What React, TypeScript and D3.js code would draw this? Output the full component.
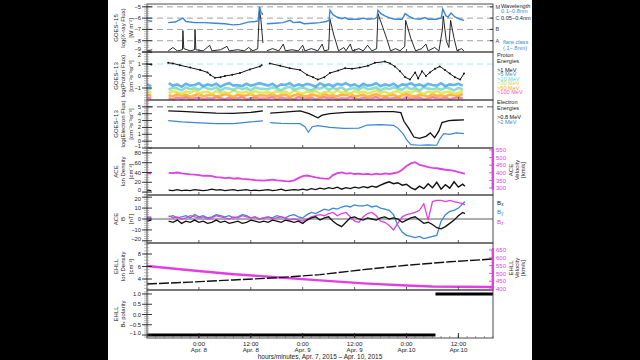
import React from 'react';
import * as d3 from 'd3';

type P = [number, number | null];

// time = hours after 2015-04-07 12:00 UT
const TIME_DOMAIN: [number, number] = [0, 80];
const TIME_TICKS = [12, 24, 36, 48, 60, 72];
const TIME_TICK_HOURS = ['0:00', '12:00', '0:00', '12:00', '0:00', '12:00'];
const TIME_TICK_DAYS = ['Apr. 8', 'Apr. 8', 'Apr. 9', 'Apr. 9', 'Apr.10', 'Apr.10'];
const TIME_TITLE = 'hours/minutes, Apr. 7, 2015 \u2013 Apr. 10, 2015';

// GOES-15 X-ray, log10 flux
const XRAY_LONG: P[] = [[0,-6.2],[1.2,-6.3],[1.3,null],[4.9,-6.4],[6.5,-6.35],[8.3,-6.0],[9,-6.3],[11.1,-6.4],[13.4,-6.4],[15.7,-6.45],[18,-6.5],[19.9,-6.6],[21.5,-6.55],[23.4,-6.35],[25,-6.3],[25.7,-6.25],[26,-5.0],[26.4,-5.5],[26.8,-5.7],[27,null],
  [27.7,-6.5],[29.6,-6.45],[31.4,-6.4],[33.1,-6.2],[33.8,-6.4],[35.4,-6.35],[36.3,-6.5],[38.2,-6.45],[40,-6.4],[41.4,-6.3],[42.1,-6.2],[42.3,-5.3],[43,-5.7],[43.9,-5.9],[45.1,-6.05],[45.8,-5.95],[46.5,-6.1],[48.8,-6.1],[50.2,-6.0],[50.9,-6.1],[52.7,-6.05],[53.2,-5.9],[53.4,-5.3],[54.1,-5.6],[55,-5.8],[56.2,-6.0],[57.3,-6.1],[59,-6.1],[59.4,-5.8],[59.7,-5.6],[60.6,-5.85],[61.7,-6.05],[63.1,-6.1],[64.3,-5.95],[65,-6.1],[66.8,-6.1],[68,-6.0],[68.4,-5.2],[69.1,-5.8],[69.6,-5.9],[70.3,-5.55],[71.2,-5.9],[72.4,-6.1],[73.3,-6.2]];
const XRAY_SHORT: P[] = [[0,-8.9],[1.2,-8.8],[1.3,null],[4.9,-8.9],[6,-8.6],[7,-8.9],[8.2,-8.8],[8.3,-7.1],[8.5,-8.7],[10,-8.9],[11,-8.8],[11.1,-7.0],[11.3,-8.8],[13,-8.9],[14.5,-8.4],[15,-8.9],[17,-8.8],[18.5,-8.5],[19,-8.9],[21,-8.8],[22.5,-8.9],[23.5,-8.6],[24.5,-8.9],[25.6,-8.7],[26,-5.3],[26.3,-6.0],[26.8,-8.2],[27,null],
  [27.7,-8.9],[29,-8.7],[30.5,-8.9],[31.5,-8.3],[32,-8.9],[33.5,-8.8],[35,-8.9],[36,-8.4],[36.5,-8.9],[38,-8.7],[39.5,-8.9],[40.5,-8.3],[41,-8.9],[42,-8.8],[42.3,-6.1],[43.2,-7.5],[44.3,-8.9],[45.5,-8.6],[46,-8.9],[47,-8.3],[47.5,-8.9],[49,-8.7],[50,-8.9],[51,-8.4],[52,-8.9],[53.1,-8.7],[53.4,-5.6],[54.5,-6.8],[55.5,-7.9],[56.3,-8.9],[57.5,-8.7],[58.5,-8.9],[59.6,-8.5],[59.8,-6.2],[61,-7.8],[62.1,-8.9],[63.5,-8.7],[64.5,-8.3],[65,-8.9],[66.5,-8.6],[67.5,-8.9],[68.3,-7.0],[68.5,-5.8],[69.2,-8.0],[69.8,-8.6],[70.2,-6.2],[71,-7.8],[71.7,-8.9],[72.7,-8.7],[73.3,-8.9]];

// GOES-13 protons, log10 flux
const PROTON_GT1: P[] = [[0,1.0],[1,0.95],[1.3,null],[4.9,1.1],[6,1.05],[7.6,0.9],[10,0.7],[12.3,0.5],[14,0.3],[14.6,0.1],[15.7,-0.15],[17,-0.1],[18,0.0],[19.7,0.1],[21.5,0.25],[23.8,0.55],[26.1,0.8],[26.5,0.9],[27,null],
  [28.4,1.05],[30.8,0.85],[33,0.65],[35.4,0.5],[37,0.1],[38.4,-0.1],[39.5,-0.3],[41,-0.1],[42.3,0.25],[44.2,0.45],[45.8,0.65],[47.4,0.6],[49.2,0.7],[51.1,0.85],[52.7,1.1],[55,1.2],[56.2,1.05],[57.3,0.8],[58.5,0.4],[59.7,-0.1],[60.8,-0.3],[62,0.3],[62.7,-0.2],[63.6,0.4],[64.5,0.0],[65.4,0.3],[66.6,0.6],[67.7,0.8],[68.9,0.5],[70,0.2],[71.2,-0.1],[72.4,-0.3],[73.3,0.2]];
const PROTON_T = [0,1,5,6,7,8,9,10,11,12,13,14,15,16,17,18,19,20,21,22,23,24,25,26,28,29,30,31,32,33,34,35,36,37,38,39,40,41,42,43,44,45,46,47,48,49,50,51,52,53,54,55,56,57,58,59,60,61,62,63,64,65,66,67,68,69,70,71,72,73];
const PROTON_GT5 = [-0.7,-0.85,
  -0.6,-0.8,-0.7,-0.9,-0.65,-0.8,-0.75,-0.6,-0.85,-0.7,-0.8,-0.65,-0.9,-0.7,-0.6,-0.8,-0.75,-0.85,-0.65,-0.8,-0.7,-0.6,
  -0.8,-0.65,-0.9,-0.7,-0.75,-0.6,-0.85,-0.7,-0.8,-0.65,-0.75,-0.9,-0.6,-0.8,-0.7,-0.85,-0.65,-0.75,-0.6,-0.8,-0.7,-0.9,-0.65,-0.8,-0.75,-0.6,-0.85,-0.7,-0.8,-0.65,-0.9,-0.7,-0.75,-0.6,-0.8,-0.7,-0.85,-0.65,-0.75,-0.8,-0.6,-0.85,-0.7,-0.75,-0.65,-0.8];
const PROTON_GT10 = [-1.0,-1.1,
  -1.15,-0.95,-1.05,-1.2,-0.95,-1.1,-1.0,-1.15,-0.9,-1.05,-1.1,-0.95,-1.2,-1.0,-1.05,-1.15,-0.95,-1.1,-1.0,-1.2,-0.95,-1.05,
  -1.1,-0.95,-1.05,-1.2,-1.0,-0.9,-1.15,-1.05,-0.95,-1.1,-1.2,-1.0,-1.05,-0.9,-1.15,-1.0,-1.1,-0.95,-1.2,-1.05,-1.0,-1.15,-0.9,-1.1,-1.05,-0.95,-1.2,-1.0,-1.1,-0.95,-1.05,-1.15,-0.9,-1.1,-1.0,-1.2,-0.95,-1.05,-1.1,-1.0,-1.15,-0.95,-1.05,-1.2,-1.0,-1.1];
const PROTON_GT30 = [-1.3,-1.4,
  -1.45,-1.25,-1.35,-1.5,-1.3,-1.4,-1.2,-1.45,-1.35,-1.3,-1.5,-1.25,-1.4,-1.35,-1.45,-1.2,-1.35,-1.4,-1.3,-1.5,-1.25,-1.4,
  -1.35,-1.45,-1.25,-1.4,-1.3,-1.5,-1.2,-1.35,-1.45,-1.3,-1.4,-1.25,-1.5,-1.35,-1.3,-1.45,-1.2,-1.4,-1.35,-1.5,-1.25,-1.4,-1.3,-1.45,-1.35,-1.2,-1.4,-1.3,-1.5,-1.35,-1.25,-1.45,-1.3,-1.4,-1.2,-1.35,-1.5,-1.3,-1.4,-1.25,-1.45,-1.35,-1.3,-1.5,-1.4,-1.25];
const PROTON_GT50 = [-1.55,-1.65,
  -1.6,-1.7,-1.5,-1.65,-1.55,-1.75,-1.6,-1.5,-1.7,-1.6,-1.55,-1.7,-1.65,-1.5,-1.6,-1.75,-1.55,-1.65,-1.6,-1.5,-1.7,-1.6,
  -1.65,-1.5,-1.7,-1.6,-1.55,-1.75,-1.6,-1.5,-1.65,-1.7,-1.55,-1.6,-1.75,-1.5,-1.65,-1.6,-1.7,-1.55,-1.6,-1.5,-1.7,-1.65,-1.55,-1.75,-1.6,-1.5,-1.65,-1.7,-1.6,-1.55,-1.75,-1.6,-1.5,-1.65,-1.7,-1.55,-1.6,-1.75,-1.5,-1.65,-1.6,-1.7,-1.55,-1.6,-1.65,-1.5];
const PROTON_GT100 = [-1.8,-1.9,
  -1.85,-1.95,-1.8,-1.9,-1.75,-1.95,-1.85,-1.8,-1.95,-1.85,-1.9,-1.75,-1.85,-1.95,-1.8,-1.9,-1.85,-1.75,-1.95,-1.85,-1.8,-1.9,
  -1.85,-1.75,-1.95,-1.8,-1.9,-1.85,-1.95,-1.75,-1.85,-1.9,-1.8,-1.95,-1.85,-1.75,-1.9,-1.8,-1.95,-1.85,-1.9,-1.75,-1.85,-1.95,-1.8,-1.9,-1.85,-1.75,-1.95,-1.8,-1.9,-1.85,-1.8,-1.95,-1.75,-1.9,-1.85,-1.8,-1.95,-1.9,-1.75,-1.85,-1.9,-1.8,-1.95,-1.85,-1.75,-1.9];

// GOES-13 electrons, log10 flux
const ELECTRON_GT08: P[] = [[4.9,4.4],[8,4.35],[12.3,4.2],[16,4.1],[19.9,4.05],[24,4.2],[26.8,4.4],[27,null],[28.5,4.1],[31,4.2],[35.4,4.4],[37.5,4.0],[39.5,3.4],[40.5,3.8],[42.3,4.0],[46,4.2],[50,4.25],[54,4.3],[57,4.3],[58.7,4.15],[59.4,2.9],[60.5,1.9],[61.7,0.6],[63,0.4],[64.5,0.7],[65.5,1.2],[66.5,0.5],[67.5,1.5],[68.2,2.7],[69.8,3.0],[71,3.05],[73.3,3.1]];
const ELECTRON_GT2: P[] = [[4.9,3.0],[8,2.8],[12.3,2.65],[16,2.55],[19.9,2.55],[24,2.8],[26.8,2.95],[27,null],[28.5,2.7],[31,2.6],[35.4,2.55],[36.5,2.1],[37.3,1.3],[38.2,2.1],[39.5,2.25],[42.3,2.0],[45.5,1.85],[49,1.9],[50.9,2.35],[54,2.4],[57,2.3],[58,1.9],[59.2,1.1],[60,0.2],[61,-0.5],[63,-0.6],[65,-0.55],[67,-0.6],[67.7,0.3],[68.6,1.1],[70,1.0],[71.5,1.2],[73.3,1.1]];

// ACE ion density [cm^-3] and velocity [km/s]
const ACE_DENSITY: P[] = [[0,4],[1,3],[1.5,null],[3,3],[3.5,null],[5,4],[6,3],[7,5],[8,3],[9,4],[10,3],[11,5],[12,4],[13,3],[14,4],[15,6],[16,4],[17,5],[18,3],[19,4],[20,5],[21,3],[22,4],[23,5],[24,3],[25,4],[26,3],[27,4],[28,5],[29,3],[30,4],[31,6],[32,3],[33,4],[34,5],[35,4],[36,6],[37,4],[38,7],[39,5],[40,8],[41,6],[42,9],[43,7],[44,10],[45,6],[46,9],[47,7],[48,10],[49,8],[50,11],[51,9],[52,12],[53,10],[54,14],[55,18],[56,21],[57,17],[58,19],[59,14],[60,16],[61,9],[62,5],[63,12],[64,7],[65,17],[66,9],[67,20],[68,6],[69,15],[70,8],[71,21],[72,10],[73,16],[73.5,12]];
const ACE_VELOCITY: P[] = [[0,400],[1,395],[1.5,null],[3,405],[3.5,null],[5,400],[6,398],[7,402],[8,396],[9,393],[10,390],[11,388],[12,385],[13,380],[14,382],[15,378],[16,372],[17,370],[18,365],[19,368],[20,362],[21,364],[22,360],[23,358],[24,355],[25,352],[26,350],[27,348],[28,352],[29,355],[30,350],[31,348],[32,345],[33,343],[34,350],[35,365],[36,378],[37,382],[38,376],[39,370],[40,365],[41,362],[42,360],[43,385],[44,398],[45,402],[46,395],[47,398],[48,392],[49,395],[50,390],[51,393],[52,388],[53,394],[54,390],[55,396],[56,392],[57,397],[58,402],[59,420],[60,445],[61,462],[62,470],[63,452],[64,446],[65,438],[66,433],[67,430],[68,425],[69,420],[70,418],[71,412],[72,405],[73,398],[73.5,395]];

// ACE magnetic field components [nT]
const ACE_BX: P[] = [[0,-2],[1,-1],[1.5,null],[3,-3],[3.5,null],[5,-2],[6,-3],[7,-1],[8,-4],[9,-2],[10,-3],[11,-1],[12,-3],[13,-2],[14,-4],[15,-3],[16,-1],[17,-3],[18,-2],[19,-4],[20,-3],[21,-2],[22,-4],[23,-3],[24,-1],[25,-2],[26,-3],[27,-2],[28,-3],[29,-1],[30,-2],[31,-3],[32,-1],[33,-2],[34,-3],[35,-2],[36,-4],[37,-1],[38,1],[39,2],[40,-1],[41,1],[42,2],[43,-2],[44,-5],[45,-7],[46,-3],[47,1],[48,2],[49,0],[50,-1],[51,1],[52,0],[53,-1],[54,1],[55,2],[56,0],[57,1],[58,0],[59,-3],[60,-1],[61,1],[62,2],[63,-1],[64,-4],[65,-3],[66,-5],[67,-8],[68,-9],[69,-7],[70,-4],[71,-1],[72,3],[73,6],[73.5,5]];
const ACE_BY: P[] = [[0,1],[1,2],[1.5,null],[3,0],[3.5,null],[5,2],[6,3],[7,1],[8,2],[9,3],[10,1],[11,4],[12,2],[13,3],[14,1],[15,2],[16,4],[17,3],[18,2],[19,3],[20,1],[21,2],[22,4],[23,3],[24,1],[25,2],[26,0],[27,1],[28,2],[29,1],[30,3],[31,2],[32,1],[33,3],[34,4],[35,2],[36,1],[37,4],[38,6],[39,5],[40,7],[41,9],[42,8],[43,10],[44,9],[45,11],[46,12],[47,11],[48,13],[49,12],[50,12],[51,13],[52,11],[53,12],[54,10],[55,9],[56,8],[57,4],[58,-6],[59,-12],[60,-15],[61,-16],[62,-17],[63,-16],[64,-18],[65,-17],[66,-16],[67,-15],[68,-2],[69,4],[70,7],[71,8],[72,10],[73,14],[73.5,16]];
const ACE_BZ: P[] = [[0,2],[1,1],[1.5,null],[3,2],[3.5,null],[5,3],[6,1],[7,2],[8,0],[9,1],[10,3],[11,2],[12,1],[13,2],[14,0],[15,1],[16,3],[17,2],[18,1],[19,0],[20,2],[21,1],[22,3],[23,2],[24,1],[25,2],[26,0],[27,1],[28,2],[29,0],[30,1],[31,2],[32,1],[33,-1],[34,0],[35,-1],[36,-2],[37,0],[38,2],[39,3],[40,4],[41,3],[42,5],[43,6],[44,3],[45,5],[46,6],[47,2],[48,-2],[49,-3],[50,2],[51,5],[52,6],[53,3],[54,-2],[55,-3],[56,-6],[57,-10],[58,-4],[59,2],[60,4],[61,5],[62,6],[63,8],[64,14],[65,-1],[66,16],[67,17],[68,17],[69,16],[70,17],[71,16],[72,15],[73,14],[73.5,13]];

// EHLL model
const EHLL_DENSITY: P[] = [[0,3.2],[10,3.5],[20,3.85],[30,4.2],[40,4.7],[50,5.5],[60,6.2],[70,6.75],[80,7.2]];
const EHLL_VELOCITY: P[] = [[0,547],[10,520],[20,495],[30,475],[40,455],[50,436],[60,422],[66,416],[72,414],[80,413]];
const BX_POLARITY_START = [0, 66.7];
const BX_POLARITY_END = [66.7, 80];
const BX_POLARITY_VALUE = [-1, 1];

const PX0 = 147, PX1 = 493;
const BLUE = '#3a86d8';
const PINK = '#e040e0';
const FRAME = '#4a4a4a';
const MINUS = '\u2212';

const PANELS = [
  { top: 4, bottom: 52, domain: [-9, -4.75], ticks: [-9, -8, -7, -6, -5], minor: 0.2, fmt: (v: number) => String(v), label: ['GOES' + MINUS + '15', 'log(X-ray Flux)', '[W m\u207B\u00B2]'] },
  { top: 52, bottom: 100, domain: [-2, 2], ticks: [-1, 0, 1, 2], minor: 0.2, fmt: (v: number) => String(v), label: ['GOES' + MINUS + '13', 'log(Proton Flux)', '[cm\u207B\u00B2s\u207B\u00B9sr\u207B\u00B9]'] },
  { top: 100, bottom: 148, domain: [-1, 6], ticks: [-1, 0, 1, 2, 3, 4, 5], minor: 0.25, fmt: (v: number) => String(v), label: ['GOES' + MINUS + '13', 'log(Electron Flux)', '[cm\u207B\u00B2s\u207B\u00B9sr\u207B\u00B9]'] },
  { top: 148, bottom: 195, domain: [-6, 90], ticks: [0, 20, 40, 60, 80], minor: 5, fmt: (v: number) => String(v), label: ['ACE', 'Ion Density', '[cm\u207B\u00B3]'] },
  { top: 195, bottom: 243, domain: [-22, 22], ticks: [-20, -10, 0, 10, 20], minor: 2, fmt: (v: number) => String(v), label: ['ACE', 'B', '[nT]'] },
  { top: 243, bottom: 290, domain: [2.24, 9.76], ticks: [4, 6, 8], minor: 0.5, fmt: (v: number) => String(v), label: ['EHLL', 'Ion Density', '[cm\u207B\u00B3]'] },
  { top: 290, bottom: 338, domain: [-1.146, 1.195], ticks: [-1, -0.5, 0, 0.5, 1], minor: 0.1, fmt: (v: number) => v.toFixed(1), label: ['EHLL', 'B\u2093 polarity', ''] },
];

export default function App() {
  const x = d3.scaleLinear().domain(TIME_DOMAIN).range([PX0, PX1]);
  const ys = PANELS.map(p => d3.scaleLinear().domain(p.domain).range([p.bottom, p.top]));
  const aceV = d3.scaleLinear().domain([300, 550]).range([188, 150]);
  const ehllV = d3.scaleLinear().domain([400, 650]).range([289, 250]);

  const line = (y: d3.ScaleLinear<number, number>, data: P[]) =>
    d3.line<P>().defined(d => d[1] != null).x(d => x(d[0])).y(d => y(d[1] as number))(data) || '';

  const band = (vals: number[]): P[] => {
    const out: P[] = [];
    PROTON_T.forEach((t, i) => {
      if (i >= vals.length) return;
      if (i > 0 && t - PROTON_T[i - 1] > 2) out.push([t - 0.5, null]);
      out.push([t, vals[i]]);
    });
    return out;
  };

  const protonBands: [number[], string][] = [
    [PROTON_GT100, '#ff6aa0'], [PROTON_GT50, '#ffa62a'], [PROTON_GT30, '#e4e23c'], [PROTON_GT10, '#7ad8c8'], [PROTON_GT5, '#48a8e8'],
  ];

  const font = "'Liberation Sans', Arial, sans-serif";
  const minorTimes = x.ticks(40);

  const tickDy = (i: number, v: number) => {
    const yy = ys[i](v);
    if (yy - PANELS[i].top < 2.5) return i === 1 ? 2.6 : 1.8;
    if (PANELS[i].bottom - yy < 4) return i === 0 ? -2.8 : -1.8;
    return 0;
  };

  return (
    <svg width={640} height={360} style={{ position: 'absolute', left: 0, top: 0 }} fontFamily={font}>
      <rect x={0} y={0} width={640} height={360} fill="#000" />
      <rect x={108} y={0} width={424} height={360} fill="#fff" />

      {[-5, -6, -7, -8].map(v => (
        <line key={'fl' + v} x1={PX0} x2={PX1} y1={ys[0](v)} y2={ys[0](v)} stroke="#8a8a8a" strokeWidth={0.8} strokeDasharray="6,4" />
      ))}
      <line x1={PX0} x2={PX1} y1={ys[1](1)} y2={ys[1](1)} stroke="#8fe4f0" strokeWidth={0.8} strokeDasharray="6,4" />
      <line x1={PX0} x2={PX1} y1={ys[2](5)} y2={ys[2](5)} stroke="#333" strokeWidth={0.8} strokeDasharray="6,4" />
      <line x1={PX0} x2={PX1} y1={ys[4](0)} y2={ys[4](0)} stroke="#333" strokeWidth={0.8} />

      <path d={line(ys[0], XRAY_SHORT)} fill="none" stroke="#111" strokeWidth={0.9} />
      <path d={line(ys[0], XRAY_LONG)} fill="none" stroke={BLUE} strokeWidth={1.4} />

      {protonBands.map(([vals, c], i) => (
        <path key={'pb' + i} d={line(ys[1], band(vals))} fill="none" stroke={c} strokeWidth={2.6} strokeOpacity={0.85} />
      ))}
      <path d={line(ys[1], PROTON_GT1)} fill="none" stroke="#111" strokeWidth={1} />
      {PROTON_GT1.filter(d => d[1] != null).map((d, i) => (
        <circle key={'p1' + i} cx={x(d[0])} cy={ys[1](d[1] as number)} r={1} fill="#111" />
      ))}

      <path d={line(ys[2], ELECTRON_GT2)} fill="none" stroke={BLUE} strokeWidth={1.2} />
      <path d={line(ys[2], ELECTRON_GT08)} fill="none" stroke="#111" strokeWidth={1.3} />

      <path d={line(aceV, ACE_VELOCITY)} fill="none" stroke={PINK} strokeWidth={1.8} />
      <path d={line(ys[3], ACE_DENSITY)} fill="none" stroke="#111" strokeWidth={1.4} />

      <path d={line(ys[4], ACE_BY)} fill="none" stroke={BLUE} strokeWidth={1.3} />
      <path d={line(ys[4], ACE_BZ)} fill="none" stroke={PINK} strokeWidth={1.3} />
      <path d={line(ys[4], ACE_BX)} fill="none" stroke="#111" strokeWidth={1.3} />

      <path d={line(ehllV, EHLL_VELOCITY)} fill="none" stroke={PINK} strokeWidth={2.4} />
      <path d={line(ys[5], EHLL_DENSITY)} fill="none" stroke="#111" strokeWidth={1.4} strokeDasharray="10,2" />
      {BX_POLARITY_VALUE.map((v, i) => (
        <line key={'bp' + i} x1={x(BX_POLARITY_START[i])} x2={x(BX_POLARITY_END[i])} y1={ys[6](v)} y2={ys[6](v)} stroke="#000" strokeWidth={3} />
      ))}

      {PANELS.map((p, i) => {
        const y = ys[i];
        const minors = d3.range(Math.ceil(p.domain[0] / p.minor) * p.minor, p.domain[1] + 1e-9, p.minor);
        const [c1, c2, c3] = p.label;
        const cy = (p.top + p.bottom) / 2;
        return (
          <g key={'pan' + i}>
            <rect x={PX0} y={p.top} width={PX1 - PX0} height={p.bottom - p.top} fill="none" stroke={FRAME} strokeWidth={1} />
            {minors.map((v, j) => (
              <line key={'mn' + j} x1={PX0 - 3} x2={PX0 + 2} y1={y(v)} y2={y(v)} stroke="#888" strokeWidth={0.6} />
            ))}
            {p.ticks.map(v => (
              <g key={'tk' + v}>
                <line x1={PX0 - 5} x2={PX0 + 5} y1={y(v)} y2={y(v)} stroke="#222" strokeWidth={0.9} />
                <text x={PX0 - 6} y={y(v) + tickDy(i, v)} dy="0.35em" textAnchor="end" fontSize={5.8} fill="#222">{p.fmt(v).replace('-', MINUS)}</text>
              </g>
            ))}
            {TIME_TICKS.map(t => (
              <line key={'tt' + t} x1={x(t)} x2={x(t)} y1={p.bottom} y2={p.bottom - 3} stroke="#333" strokeWidth={0.8} />
            ))}
            <g fontSize={6} fill="#222" textAnchor="middle">
              <text transform={`translate(116,${cy}) rotate(-90)`} dominantBaseline="central">{c1}</text>
              <text transform={`translate(123,${cy}) rotate(-90)`} dominantBaseline="central">{c2}</text>
              {c3 && <text transform={`translate(130.5,${cy}) rotate(-90)`} dominantBaseline="central">{c3}</text>}
            </g>
          </g>
        );
      })}

      <g fontSize={5.6}>
        {[['M', -5], ['C', -6], ['B', -7], ['A', -8]].map(([l, v]) => (
          <g key={'cls' + l}>
            <line x1={PX1 - 3} x2={PX1} y1={ys[0](v as number)} y2={ys[0](v as number)} stroke="#333" />
            <text x={495.5} y={ys[0](v as number)} dy="0.35em" fill="#445">{l}</text>
          </g>
        ))}
        <text x={501} y={7.5} fill="#222">Wavelength</text>
        <text x={501} y={12.5} fill={BLUE}>{'0.1' + MINUS + '0.8nm'}</text>
        <text x={501} y={ys[0](-6)} dy="0.35em" fill="#222">{'0.05' + MINUS + '0.4nm'}</text>
        <text x={503} y={44} fill={BLUE}>flare class</text>
        <text x={503} y={50} fill={BLUE}>{'(.1' + MINUS + '.8nm)'}</text>

        <text x={497} y={57} fill="#222">Proton</text>
        <text x={497} y={62.5} fill="#222">Energies</text>
        <text x={497} y={71.5} fill="#111">&gt;1 MeV</text>
        <text x={497} y={76} fill="#3a8ee0">&gt;5 MeV</text>
        <text x={497} y={80.5} fill="#56d6e8">&gt;10 MeV</text>
        <text x={497} y={85} fill="#d6d630">&gt;30 MeV</text>
        <text x={497} y={89.5} fill="#ffa62a">&gt;50 MeV</text>
        <text x={497} y={94} fill="#ff5aa8">&gt;100 MeV</text>

        <text x={497} y={104} fill="#222">Electron</text>
        <text x={497} y={109.5} fill="#222">Energies</text>
        <text x={497} y={118.5} fill="#111">&gt;0.8 MeV</text>
        <text x={497} y={123.5} fill={BLUE}>&gt;2 MeV</text>

        <g fontSize={6.2}>
          <text x={497} y={205} fill="#111">B<tspan fontSize={4.5} dy={1}>x</tspan></text>
          <text x={497} y={214} fill={BLUE}>B<tspan fontSize={4.5} dy={1}>y</tspan></text>
          <text x={497} y={224} fill={PINK}>B<tspan fontSize={4.5} dy={1}>z</tspan></text>
        </g>
      </g>

      <line x1={PX1} x2={PX1} y1={aceV(550) - 2} y2={aceV(300) + 2} stroke={PINK} strokeWidth={1.8} />
      {d3.range(300, 551, 10).map(v => (
        <line key={'avm' + v} x1={PX1 - 2} x2={PX1 + 1} y1={aceV(v)} y2={aceV(v)} stroke={PINK} strokeWidth={0.6} />
      ))}
      {[300, 350, 400, 450, 500, 550].map(v => (
        <g key={'av' + v}>
          <line x1={PX1 - 4} x2={PX1} y1={aceV(v)} y2={aceV(v)} stroke={PINK} strokeWidth={0.9} />
          <text x={496} y={aceV(v)} dy="0.35em" fontSize={6} fill={PINK}>{v}</text>
        </g>
      ))}
      <g fontSize={6} fill="#222" textAnchor="middle">
        <text transform="translate(511,170) rotate(-90)" dominantBaseline="central">ACE</text>
        <text transform="translate(517,170) rotate(-90)" dominantBaseline="central">Velocity</text>
        <text transform="translate(523,170) rotate(-90)" dominantBaseline="central">[km/s]</text>
      </g>

      <line x1={PX1} x2={PX1} y1={ehllV(650) - 2} y2={ehllV(400) + 1} stroke={PINK} strokeWidth={1.8} />
      {d3.range(400, 651, 10).map(v => (
        <line key={'evm' + v} x1={PX1 - 2} x2={PX1 + 1} y1={ehllV(v)} y2={ehllV(v)} stroke={PINK} strokeWidth={0.6} />
      ))}
      {[400, 450, 500, 550, 600, 650].map(v => (
        <g key={'ev' + v}>
          <line x1={PX1 - 4} x2={PX1} y1={ehllV(v)} y2={ehllV(v)} stroke={PINK} strokeWidth={0.9} />
          <text x={496} y={ehllV(v)} dy="0.35em" fontSize={6} fill={PINK}>{v}</text>
        </g>
      ))}
      <g fontSize={6} fill="#222" textAnchor="middle">
        <text transform="translate(511,268) rotate(-90)" dominantBaseline="central">EHLL</text>
        <text transform="translate(517,268) rotate(-90)" dominantBaseline="central">Velocity</text>
        <text transform="translate(523,268) rotate(-90)" dominantBaseline="central">[km/s]</text>
      </g>

      {minorTimes.map(t => (
        <line key={'mt' + t} x1={x(t)} x2={x(t)} y1={338} y2={336} stroke="#555" strokeWidth={0.6} />
      ))}
      {TIME_TICKS.map((t, i) => (
        <g key={'xt' + t}>
          <line x1={x(t)} x2={x(t)} y1={338} y2={333} stroke="#222" strokeWidth={0.9} />
          <text x={x(t)} y={346} textAnchor="middle" fontSize={6.2} fill="#222">{TIME_TICK_HOURS[i]}</text>
          <text x={x(t)} y={351.5} textAnchor="middle" fontSize={6.2} fill="#222">{TIME_TICK_DAYS[i]}</text>
        </g>
      ))}
      <text x={320} y={358.5} textAnchor="middle" fontSize={6.5} fill="#222">{TIME_TITLE}</text>
    </svg>
  );
}
